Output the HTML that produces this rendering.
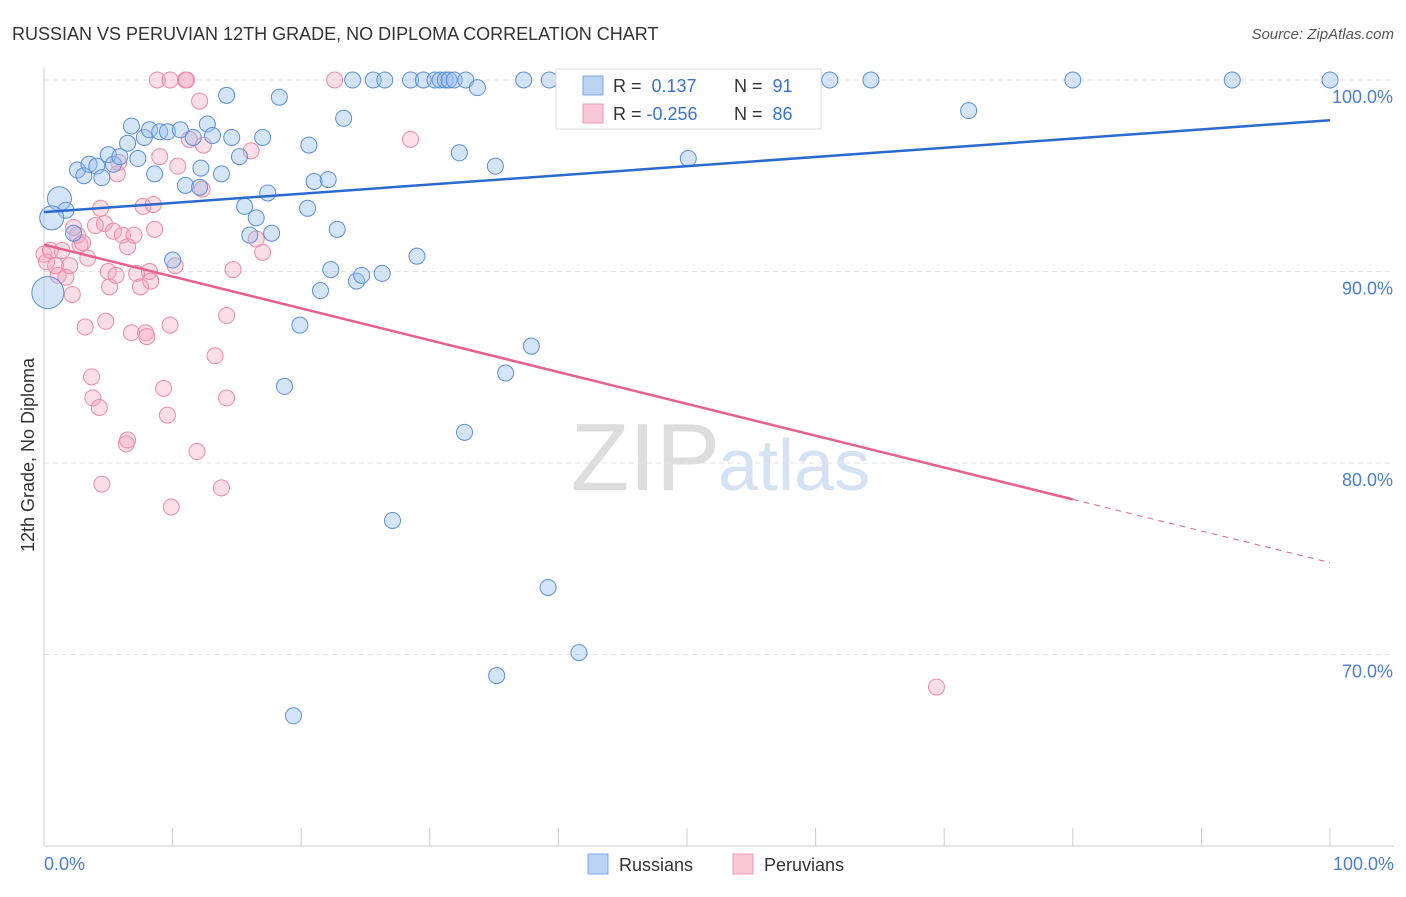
<!DOCTYPE html>
<html><head><meta charset="utf-8"><style>
body{margin:0;background:#fff;font-family:"Liberation Sans",sans-serif}
svg text{font-family:"Liberation Sans",sans-serif}
</style></head><body>
<svg id="chart" width="1406" height="892" viewBox="0 0 1406 892" xmlns="http://www.w3.org/2000/svg">
<text x="12" y="40" font-size="18" fill="#333">RUSSIAN VS PERUVIAN 12TH GRADE, NO DIPLOMA CORRELATION CHART</text>
<text x="1394" y="39" font-size="15" fill="#555" text-anchor="end" font-style="italic">Source: ZipAtlas.com</text>
<text x="720" y="490" font-size="96" fill="#ddd" text-anchor="end" font-family="Liberation Serif">ZIP</text>
<text x="718" y="490" font-size="72" fill="#d4e2f4">atlas</text>
<g id="grid"></g><g id="axes"></g><g id="pts"></g><g id="trend"></g>
<text transform="translate(34,455) rotate(-90)" font-size="18" fill="#333" text-anchor="middle">12th Grade, No Diploma</text>
<text x="44" y="870" font-size="18" fill="#4a7fd0">0.0%</text>
<text x="1394" y="870" font-size="18" fill="#4a7fd0" text-anchor="end">100.0%</text>
<g>
<rect x="556" y="69" width="265" height="60" fill="#fff" stroke="#ddd"/>
<rect x="583" y="76" width="20" height="19" fill="#bcd4f4" stroke="#7fa8e0"/>
<rect x="583" y="104" width="20" height="19" fill="#f9c8d6" stroke="#ee9ab4"/>
<text x="613" y="92" font-size="18" fill="#333">R = <tspan fill="#3a72d0">&#160;0.137</tspan></text>
<text x="734" y="92" font-size="18" fill="#333">N = <tspan fill="#3a72d0">&#160;91</tspan></text>
<text x="613" y="120" font-size="18" fill="#333">R = <tspan fill="#3a72d0">-0.256</tspan></text>
<text x="734" y="120" font-size="18" fill="#333">N = <tspan fill="#3a72d0">&#160;86</tspan></text>
</g>
<g>
<rect x="588" y="854" width="20" height="20" fill="#bcd4f4" stroke="#7fa8e0"/>
<text x="619" y="871" font-size="18" fill="#333">Russians</text>
<rect x="733" y="854" width="20" height="20" fill="#f9c8d6" stroke="#ee9ab4"/>
<text x="764" y="871" font-size="18" fill="#333">Peruvians</text>
</g>
</svg>
<script>
const yTicks=[100,90,80,70];
const yTickLabels=["100.0%","90.0%","80.0%","70.0%"];
const xTicks=[0,10,20,30,40,50,60,70,80,90,100];
const blueX=[1.2,1.7,0.6,0.3,2.3,2.6,3.1,3.5,4.1,4.5,5.0,5.4,5.9,6.5,6.8,7.3,7.8,8.2,8.6,9.0,9.6,10.0,10.6,11.0,11.6,12.1,12.2,12.7,13.1,13.8,14.2,14.6,15.2,15.6,16.0,16.5,17.0,17.4,17.7,18.3,18.7,19.4,19.9,20.5,20.6,21.0,21.5,22.1,22.3,22.8,23.3,24.0,24.3,24.7,25.6,26.3,26.5,27.1,28.5,29.0,29.5,30.4,30.8,31.2,31.5,31.9,32.3,32.7,32.8,33.7,35.1,35.2,35.9,37.3,37.9,39.2,39.3,40.5,41.6,47.1,50.1,51.0,52.6,54.7,59.4,61.1,64.3,71.9,80.0,92.4,100];
const blueY=[93.8,93.2,92.8,88.9,92.0,95.3,95.0,95.6,95.5,94.9,96.1,95.6,96.0,96.7,97.6,95.9,97.0,97.4,95.1,97.3,97.3,90.6,97.4,94.5,97.0,94.4,95.4,97.7,97.1,95.1,99.2,97.0,96.0,93.4,91.9,92.8,97.0,94.1,92.0,99.1,84.0,66.8,87.2,93.3,96.6,94.7,89.0,94.8,90.1,92.2,98.0,100,89.5,89.8,100,89.9,100,77.0,100,90.8,100,100,100,100,100,100,96.2,81.6,100,99.6,95.5,68.9,84.7,100,86.1,73.5,100,100,70.1,100,95.9,100,100,100,100,100,100,98.4,100,100,100];
const blueBig=[0,2,3];
const pinkX=[0,0.2,0.5,0.9,1.1,1.4,1.7,2.0,2.2,2.3,2.6,2.8,3.0,3.2,3.4,3.7,3.8,4.0,4.3,4.4,4.5,4.7,4.8,5.0,5.1,5.4,5.6,5.7,5.8,6.1,6.4,6.5,6.5,6.8,7.0,7.2,7.5,7.7,7.9,8.0,8.2,8.3,8.5,8.6,8.8,9.0,9.3,9.6,9.8,9.8,9.9,10.2,10.4,11.0,11.1,11.3,11.9,12.1,12.3,12.4,13.3,13.8,14.2,14.2,14.7,16.1,16.5,17.0,22.6,28.5,69.4];
const pinkY=[90.9,90.5,91.1,90.3,89.8,91.1,89.7,90.3,88.8,92.3,91.9,91.4,91.5,87.1,90.7,84.5,83.4,92.4,82.9,93.3,78.9,92.5,87.4,90.0,89.2,92.1,89.8,95.1,95.7,91.9,81.0,81.2,91.3,86.8,91.9,89.9,89.2,93.4,86.8,86.6,90.0,89.5,93.5,92.2,100,96.0,83.9,82.5,100,87.2,77.7,90.3,95.5,100,100,96.9,80.6,98.9,94.3,96.6,85.6,78.7,87.7,83.4,90.1,96.3,91.7,91.0,100,96.9,68.3];
const blueTrend=[93.1,97.9];
const pinkTrend=[91.4,78.1,74.8];
const pinkTrendX=[0,80,100];

const X=v=>44+v*12.86, Y=v=>80+(100-v)*19.15;
const NS="http://www.w3.org/2000/svg";
function mk(tag,attrs,parent){const e=document.createElementNS(NS,tag);for(const k in attrs)e.setAttribute(k,attrs[k]);document.getElementById(parent).appendChild(e);return e;}
yTicks.forEach((t,i)=>{
 const g=mk('line',{x1:44,x2:1394,y1:Y(t),y2:Y(t),stroke:'#e2e2e2','stroke-dasharray':'5,4'},'grid');
 
 
 const l=mk('text',{x:1393,y:Y(t)+23,'font-size':18,fill:'#4a7fd0','text-anchor':'end'},'grid');
 l.textContent=yTickLabels[i];
 
 
});
const ax=mk('line',{x1:44,x2:44,y1:68,y2:846,stroke:'#ccc'},'axes');


const bx=mk('line',{x1:44,x2:1394,y1:846,y2:846,stroke:'#ccc'},'axes');


xTicks.forEach(t=>{
 const k=mk('line',{x1:X(t),x2:X(t),y1:828,y2:846,stroke:'#ccc'},'axes');
 
 
});
pinkX.forEach((v,i)=>{
 const c=mk('circle',{cx:X(v),cy:Y(pinkY[i]),r:8,fill:'rgba(245,160,185,0.35)',stroke:'#ee8aa8','stroke-width':1},'pts');
 
 
});
blueX.forEach((v,i)=>{
 const c=mk('circle',{cx:X(v),cy:Y(blueY[i]),r:blueBig.includes(i)?(i==3?16:12):8,fill:'rgba(150,190,240,0.4)',stroke:'#5b8fdb','stroke-width':1},'pts');
 
 
});
const bt=mk('line',{x1:X(0),y1:Y(blueTrend[0]),x2:X(100),y2:Y(blueTrend[1]),stroke:'#2a6ad0','stroke-width':2.5},'trend');


const pt=mk('line',{x1:X(pinkTrendX[0]),y1:Y(pinkTrend[0]),x2:X(pinkTrendX[1]),y2:Y(pinkTrend[1]),stroke:'#e8608c','stroke-width':2.5},'trend');


const pd=mk('line',{x1:X(pinkTrendX[1]),y1:Y(pinkTrend[1]),x2:X(pinkTrendX[2]),y2:Y(pinkTrend[2]),stroke:'#e8608c','stroke-width':1,'stroke-dasharray':'6,5'},'trend');


</script>
</body></html>
